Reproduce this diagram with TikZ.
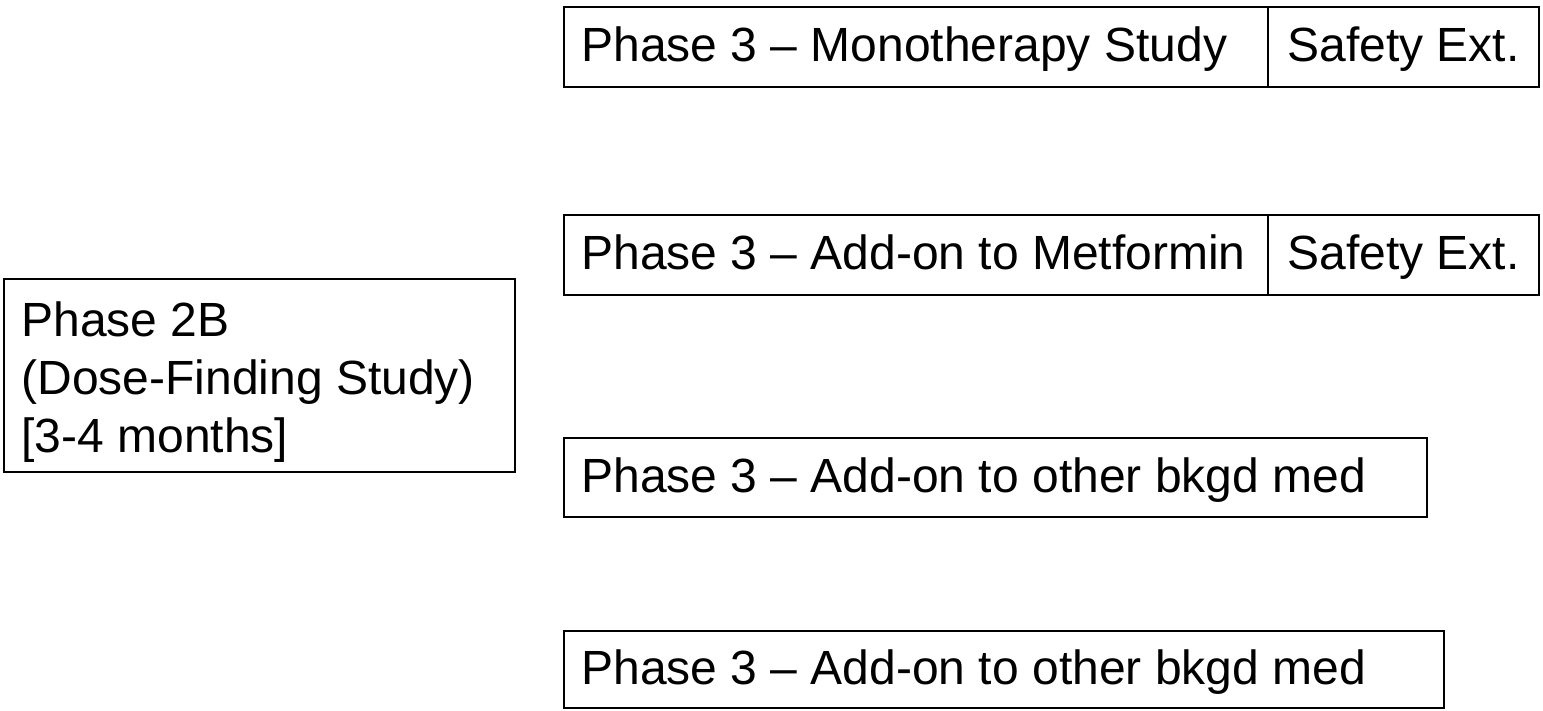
\documentclass[tikz,border=0pt]{standalone}
\usepackage{fontspec}
\setmainfont{Liberation Sans}
\begin{document}
\begin{tikzpicture}[x=0.5pt,y=-0.5pt,
  box/.style={draw=black, line width=1.3pt, rectangle, inner sep=0pt, anchor=center},
  lbl/.style={inner sep=0pt, align=left, font=\fontsize{24}{29}\selectfont, anchor=base west}]
\useasboundingbox (0,0) rectangle (1543,711);
% Phase 3 Monotherapy
\node[box, minimum width=352pt, minimum height=40pt] (mono) at (916,47) {};
\node[box, minimum width=135.5pt, minimum height=40pt] (monoext) at (1403.5,47) {};
\node[lbl] (monot) at (581,62) {Phase 3 -- Monotherapy Study};
\node[lbl] (monoextt) at (1287,62) {Safety Ext.};
% Phase 3 Metformin
\node[box, minimum width=352pt, minimum height=40pt] (met) at (916,255) {};
\node[box, minimum width=135.5pt, minimum height=40pt] (metext) at (1403.5,255) {};
\node[lbl] (mett) at (581,270) {Phase 3 -- Add-on to Metformin};
\node[lbl] (metextt) at (1287,270) {Safety Ext.};
% Phase 2B
\node[box, minimum width=255.5pt, minimum height=96.5pt] (p2b) at (259.5,375.5) {};
\node[lbl] (p2bt) at (21,452) {Phase 2B\\(Dose-Finding Study)\\{[3-4 months]}};
% Phase 3 other bkgd med
\node[box, minimum width=431.5pt, minimum height=39.5pt] (bk1) at (995.5,477.5) {};
\node[lbl] (bk1t) at (581,492.5) {Phase 3 -- Add-on to other bkgd med};
\node[box, minimum width=440pt, minimum height=38.5pt] (bk2) at (1004,669.5) {};
\node[lbl] (bk2t) at (581,684.5) {Phase 3 -- Add-on to other bkgd med};
\end{tikzpicture}
\end{document}
